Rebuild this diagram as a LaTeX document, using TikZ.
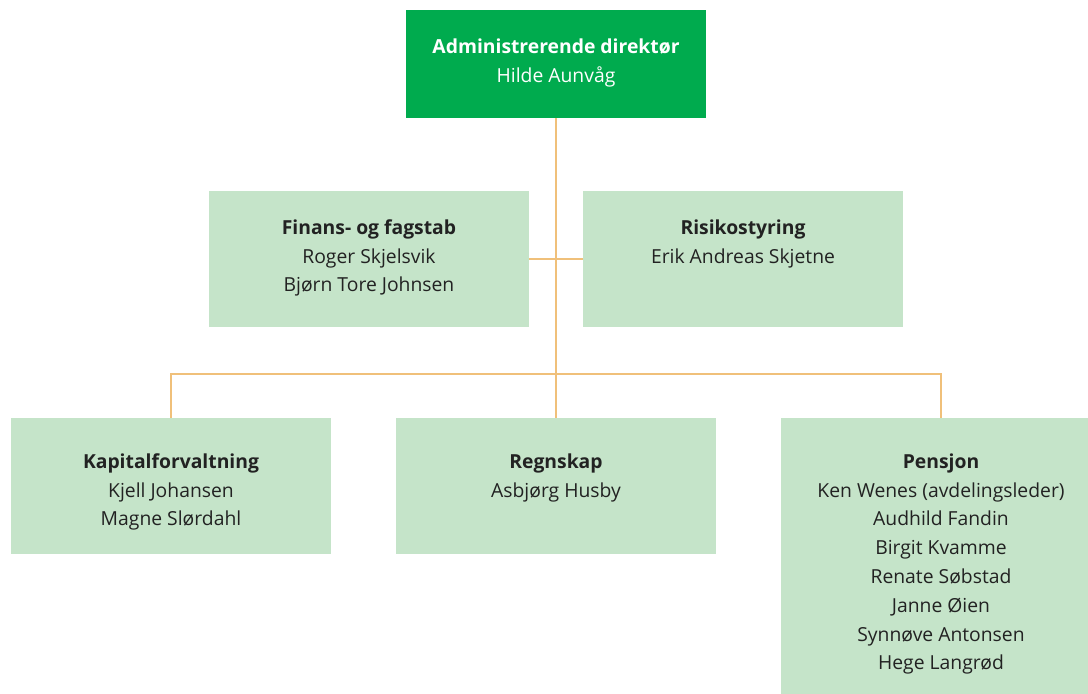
\documentclass[tikz,border=0pt]{standalone}
\usepackage{fontspec}
\setmainfont{Open Sans}
\usetikzlibrary{positioning}
\definecolor{dirgreen}{HTML}{00AB4E}
\definecolor{unitgreen}{HTML}{C5E4C9}
\definecolor{lineorange}{HTML}{F0C07A}
\definecolor{txtgray}{HTML}{222222}

\begin{document}
\begin{tikzpicture}[x=0.02cm,y=-0.02cm,
    unit/.style={fill=unitgreen,minimum width=6.4cm,minimum height=2.72cm,inner sep=0pt},
    names/.style={anchor=north,align=center,inner sep=0pt,text=txtgray,font=\fontsize{11}{16.4}\selectfont},
    link/.style={draw=lineorange,line width=1pt}]
  \clip (0,0) rectangle (1088,693);

  % boxes
  \node[fill=dirgreen,minimum width=6cm,minimum height=2.16cm,inner sep=0pt] (dir) at (556,64) {};
  \node[unit] (fin)  at (369,259) {};
  \node[unit] (risk) at (743,259) {};
  \node[unit] (kap)  at (171,486) {};
  \node[unit] (regn) at (556,486) {};
  \node[unit,minimum height=5.6cm] (pen) at (941,558) {};

  % lines
  \draw[link] (dir.south) -- (regn.north);
  \draw[link] (fin.east) -- (risk.west);
  \coordinate (bus) at (556,374);
  \draw[link] (kap.north) |- (bus) -| (pen.north);

  % texts
  \node[names,text=white,below=0.57cm of dir.north] (dirtxt) {\textbf{Administrerende direktør}\\Hilde Aunvåg};
  \node[names,below=0.57cm of fin.north] (fintxt) {\textbf{Finans- og fagstab}\\Roger Skjelsvik\\Bjørn Tore Johnsen};
  \node[names,below=0.57cm of risk.north] (risktxt) {\textbf{Risikostyring}\\Erik Andreas Skjetne};
  \node[names,below=0.71cm of kap.north] (kaptxt) {\textbf{Kapitalforvaltning}\\Kjell Johansen\\Magne Slørdahl};
  \node[names,below=0.71cm of regn.north] (regntxt) {\textbf{Regnskap}\\Asbjørg Husby};
  \node[names,below=0.71cm of pen.north] (pentxt) {\textbf{Pensjon}\\Ken Wenes (avdelingsleder)\\Audhild Fandin\\Birgit Kvamme\\Renate Søbstad\\Janne Øien\\Synnøve Antonsen\\Hege Langrød};
\end{tikzpicture}
\end{document}
